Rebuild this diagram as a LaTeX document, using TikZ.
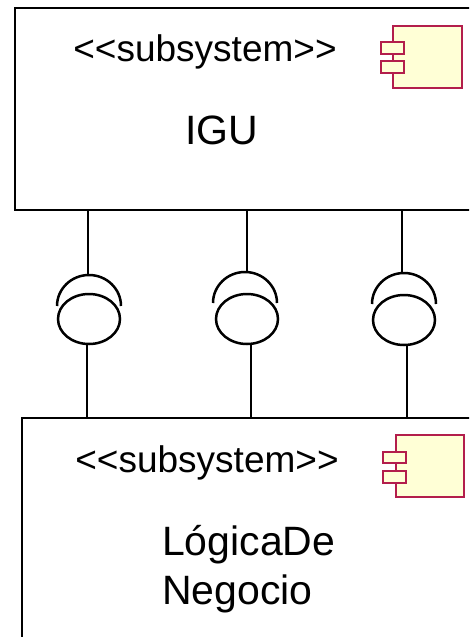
\documentclass[tikz,border=0pt]{standalone}
\usepackage{fontspec}
\setmainfont{Liberation Sans}[Ligatures=TeXOff]
\usetikzlibrary{shapes.geometric}
\definecolor{iconline}{HTML}{B31E4C}
\definecolor{iconfill}{HTML}{FFFFD6}
\tikzset{
  subsys/.style={draw=black, line width=2.5pt, fill=white},
  stereo/.style={font=\fontsize{37}{44}\selectfont, inner sep=0pt, anchor=base},
  sysname/.style={font=\fontsize{41}{49}\selectfont, inner sep=0pt},
  iconbox/.style={draw=iconline, fill=iconfill, line width=2pt},
  ball/.style={ellipse, draw=black, line width=2.5pt, minimum width=62pt, minimum height=50pt, inner sep=0pt},
  wire/.style={draw=black, line width=2.5pt},
}
\begin{document}
\begin{tikzpicture}[x=1pt, y=-1pt]
\useasboundingbox (0,0) rectangle (469,637);
\clip (0,0) rectangle (469,637);
% subsystem boxes
\draw[subsys] (15,8) rectangle (495,210);
\draw[subsys] (22,418) rectangle (495,670);
\coordinate (topA) at (88,210);
\coordinate (topB) at (247,210);
\coordinate (topC) at (402,210);
\coordinate (botA) at (87,418);
\coordinate (botB) at (251,418);
\coordinate (botC) at (407,418);
% texts
\node[stereo] (st1) at (205,61) {<<subsystem>>};
\node[sysname, anchor=base] (igu) at (222,144) {IGU};
\node[stereo] (st2) at (207,472) {<<subsystem>>};
\node[sysname, anchor=base west, align=left] (ldn) at (162,604) {LógicaDe\\Negocio};
% component icons
\draw[iconbox] (393,26) rectangle (462,88);
\draw[iconbox] (381,42) rectangle (404,54);
\draw[iconbox] (381,61) rectangle (404,73);
\draw[iconbox] (396,435) rectangle (464,497);
\draw[iconbox] (383,452) rectangle (406,463);
\draw[iconbox] (383,471) rectangle (406,483);
% interfaces
\node[ball] (ballA) at (89,319) {};
\node[ball] (ballB) at (247,319) {};
\node[ball] (ballC) at (404,320) {};
\coordinate (sockA) at (89,275);
\coordinate (sockB) at (245,272);
\coordinate (sockC) at (404,273);
\draw[wire] (57,306) arc[start angle=180, end angle=360, x radius=32, y radius=31];
\draw[wire] (213,303) arc[start angle=180, end angle=360, x radius=32, y radius=31];
\draw[wire] (372,304) arc[start angle=180, end angle=360, x radius=32, y radius=31];
\draw[wire] (topA) -- (topA |- sockA);
\draw[wire] (topB) -- (topB |- sockB);
\draw[wire] (topC) -- (topC |- sockC);
\draw[wire] (ballA.south -| botA) -- (botA);
\draw[wire] (ballB.south -| botB) -- (botB);
\draw[wire] (ballC.south -| botC) -- (botC);
\end{tikzpicture}
\end{document}
